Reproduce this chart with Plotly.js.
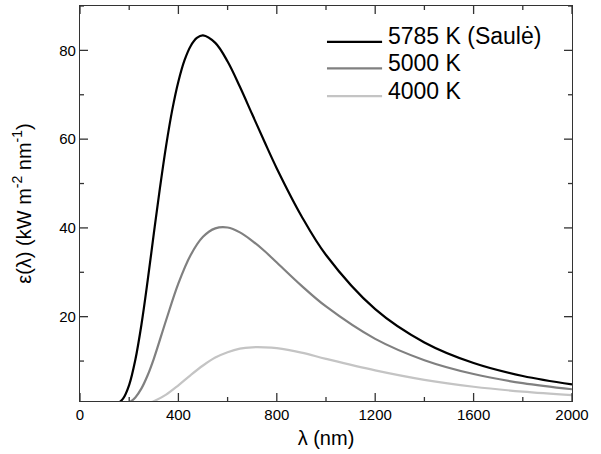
<!DOCTYPE html>
<html>
<head>
<meta charset="utf-8">
<script src="https://cdn.plot.ly/plotly-3.0.1.min.js"></script>
<style>html,body{margin:0;padding:0;background:#fff;}#chart{width:601px;height:454px;}</style>
</head>
<body>
<div id="chart"></div>
<script>
// wavelength (nm) and spectral exitance (kW m^-2 nm^-1)
var lamSun = [150, 175, 200, 225, 250, 275, 300, 325, 350, 375, 400, 425, 450, 475, 500, 550, 600, 650, 700, 750, 800, 900, 1000, 1200, 1400, 1600, 1800, 2000];
var eSun   = [0.31, 1.53, 4.65, 10.3, 18.3, 28.1, 38.7, 49.0, 58.5, 66.6, 73.0, 77.8, 81.0, 82.8, 83.4, 81.7, 77.5, 71.8, 65.6, 59.4, 53.4, 42.7, 33.9, 21.7, 14.2, 9.56, 6.64, 4.74];

var lam5000 = [175, 200, 225, 250, 275, 300, 350, 400, 450, 500, 550, 600, 650, 700, 750, 800, 900, 1000, 1200, 1400, 1600, 1800, 2000];
var e5000   = [0.17, 0.66, 1.81, 3.84, 6.79, 10.5, 19.2, 27.5, 33.9, 38.0, 39.9, 40.1, 39.0, 37.1, 34.8, 32.2, 27.0, 22.3, 15.0, 10.2, 7.08, 5.02, 3.64];

var lam4000 = [250, 275, 300, 350, 400, 450, 500, 550, 600, 650, 700, 750, 800, 900, 1000, 1200, 1400, 1600, 1800, 2000];
var e4000   = [0.22, 0.50, 0.96, 2.45, 4.54, 6.85, 9.00, 10.8, 12.0, 12.8, 13.1, 13.1, 12.9, 11.9, 10.5, 7.90, 5.77, 4.21, 3.11, 2.32];

var seriesNames = ['5785 K (Saulė)', '5000 K', '4000 K'];
var seriesColors = ['#000000', '#808080', '#c4c4c4'];

var xTicks = [0, 400, 800, 1200, 1600, 2000];
var xMinorTicks = [200, 600, 1000, 1400, 1800];
var yTicks = [20, 40, 60, 80];
var yMinorTicks = [10, 30, 50, 70, 90];

var FONT = 'Liberation Sans, Arial, Helvetica, sans-serif';
var AXC = '#333';

var xs = [lamSun, lam5000, lam4000];
var ys = [eSun, e5000, e4000];
var traces = xs.map(function (x, i) {
  return {
    x: x, y: ys[i], type: 'scatter', mode: 'lines', name: seriesNames[i],
    line: {color: seriesColors[i], width: 2.2, shape: 'spline', smoothing: 1},
    showlegend: false
  };
});

var shapes = [], annotations = [];

// inside tick marks on all four sides, placed through the axes
var plotW = 601 - 80 - 29, plotH = 454 - 6 - 53;
function xTick(v, len) {
  var f = len / plotH;
  shapes.push({type: 'line', xref: 'x', yref: 'paper', x0: v, x1: v, y0: 0, y1: f, line: {color: AXC, width: 1.3}});
  shapes.push({type: 'line', xref: 'x', yref: 'paper', x0: v, x1: v, y0: 1, y1: 1 - f, line: {color: AXC, width: 1.3}});
}
function yTick(v, len) {
  var f = len / plotW;
  shapes.push({type: 'line', xref: 'paper', yref: 'y', x0: 0, x1: f, y0: v, y1: v, line: {color: AXC, width: 1.3}});
  shapes.push({type: 'line', xref: 'paper', yref: 'y', x0: 1, x1: 1 - f, y0: v, y1: v, line: {color: AXC, width: 1.3}});
}
xTicks.forEach(function (v) { xTick(v, 8); });
xMinorTicks.forEach(function (v) { xTick(v, 4); });
yTicks.forEach(function (v) { yTick(v, 8); });
yMinorTicks.forEach(function (v) { yTick(v, 4); });

// custom legend (long line samples like the reference)
var legY = [0.909, 0.842, 0.772];
seriesNames.forEach(function (n, i) {
  shapes.push({type: 'line', xref: 'paper', yref: 'paper', x0: 0.502, x1: 0.614,
    y0: legY[i], y1: legY[i], line: {color: seriesColors[i], width: 2.2}});
  annotations.push({xref: 'paper', yref: 'paper', x: 0.622, y: legY[i] + 0.014,
    xanchor: 'left', yanchor: 'middle', text: n, showarrow: false,
    font: {family: FONT, size: 23, color: '#000'}});
});

var layout = {
  width: 601, height: 454,
  margin: {l: 80, r: 29, t: 6, b: 53},
  showlegend: false,
  xaxis: {
    range: [0, 2000], showline: true, mirror: true, linecolor: AXC, linewidth: 1.3,
    ticks: '', tickmode: 'array', tickvals: xTicks, ticktext: xTicks.map(String),
    showgrid: false, zeroline: false,
    tickfont: {family: FONT, size: 15, color: '#000'},
    title: {text: 'λ (nm)', font: {family: FONT, size: 20, color: '#000'}, standoff: 8}
  },
  yaxis: {
    range: [1, 90], showline: true, mirror: true, linecolor: AXC, linewidth: 1.3,
    ticks: '', tickmode: 'array', tickvals: yTicks, ticktext: yTicks.map(String),
    showgrid: false, zeroline: false,
    tickfont: {family: FONT, size: 15, color: '#000'},
    title: {text: 'ε(λ) (kW m<sup>-2</sup> nm<sup>-1</sup>)', font: {family: FONT, size: 20, color: '#000'}, standoff: 22}
  },
  shapes: shapes,
  annotations: annotations
};

Plotly.newPlot('chart', traces, layout, {displayModeBar: false});
</script>
</body>
</html>
